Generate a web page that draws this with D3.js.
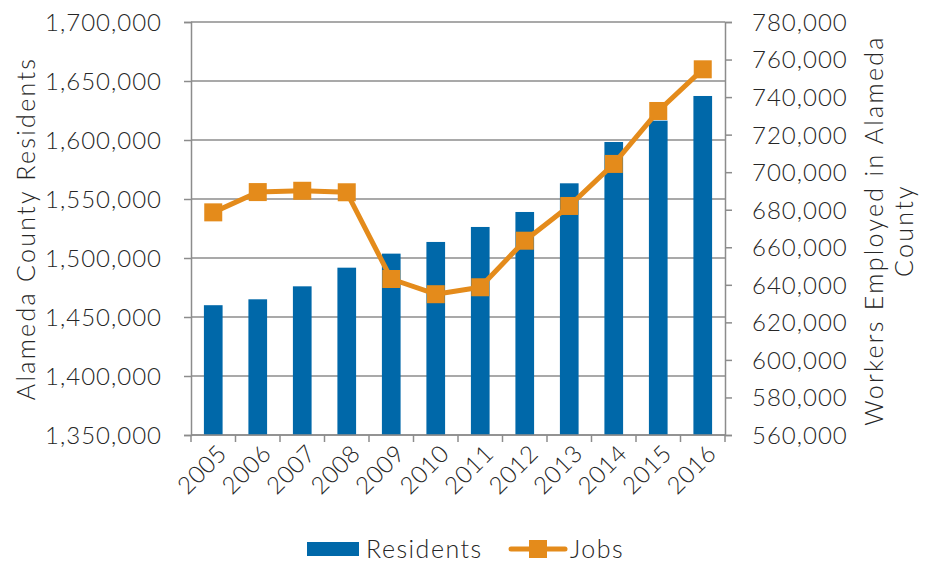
<!DOCTYPE html>
<html>
<head>
<meta charset="utf-8">
<script src="https://cdn.jsdelivr.net/npm/d3@7"></script>
<style>
  html, body { margin: 0; padding: 0; background: #fff; }
  svg text { font-family: Lato, "Open Sans", sans-serif; font-weight: 300; fill: #262626; }
</style>
</head>
<body>
<svg id="chart" width="935" height="565"></svg>
<script>
const years = ["2005","2006","2007","2008","2009","2010","2011","2012","2013","2014","2015","2016"];
const residents = [1460000, 1465000, 1476000, 1491800, 1503700, 1513600, 1526300, 1539000, 1563300, 1598300, 1616400, 1637300];
const jobs = [678600, 689400, 690100, 689300, 643100, 635000, 638700, 663500, 682000, 704400, 732600, 754800];
const leftTicks = [1350000, 1400000, 1450000, 1500000, 1550000, 1600000, 1650000, 1700000];
const rightTicks = [560000, 580000, 600000, 620000, 640000, 660000, 680000, 700000, 720000, 740000, 760000, 780000];

const blue = "#0068a9", orange = "#e48b1b", axisGrey = "#8c8c8c", ink = "#262626";
const m = { left: 191, right: 725, top: 22, bottom: 435 };
const svg = d3.select("#chart");
const fmt = d3.format(",");

const x = d3.scaleBand().domain(years).range([m.left, m.right]).paddingInner(0.58).paddingOuter(0.29);
const xb = d3.scaleBand().domain(years).range([m.left, m.right]);
const yL = d3.scaleLinear().domain([1350000, 1700000]).range([m.bottom, m.top]);
const yR = d3.scaleLinear().domain([560000, 780000]).range([m.bottom, m.top]);

// horizontal gridlines from the left axis
svg.append("g").selectAll("line").data(leftTicks).join("line")
  .attr("x1", m.left).attr("x2", m.right)
  .attr("y1", d => yL(d)).attr("y2", d => yL(d))
  .attr("stroke", axisGrey).attr("stroke-width", 1.5);

// residents bars
svg.append("g").selectAll("rect").data(years).join("rect")
  .attr("x", d => x(d)).attr("width", x.bandwidth())
  .attr("y", (d, i) => yL(residents[i]))
  .attr("height", (d, i) => m.bottom - yL(residents[i]))
  .attr("fill", blue);

function styleAxis(g) {
  g.select(".domain").attr("stroke", axisGrey).attr("stroke-width", 1.5);
  g.selectAll(".tick line").attr("stroke", axisGrey).attr("stroke-width", 1.5);
  g.selectAll(".tick text").attr("fill", ink).style("font-size", "24px")
    .style("letter-spacing", "1px").attr("dy", "0.35em");
}

// left axis
svg.append("g").attr("transform", `translate(${m.left},0)`)
  .call(d3.axisLeft(yL).tickValues(leftTicks).tickFormat(fmt).tickSize(7).tickPadding(22))
  .call(styleAxis);

// right axis
svg.append("g").attr("transform", `translate(${m.right},0)`)
  .call(d3.axisRight(yR).tickValues(rightTicks).tickFormat(fmt).tickSize(7).tickPadding(20))
  .call(styleAxis);

// bottom axis: ticks at category boundaries
const gb = svg.append("g").attr("transform", `translate(0,${m.bottom})`);
gb.append("line").attr("x1", m.left).attr("x2", m.right).attr("stroke", axisGrey).attr("stroke-width", 1.5);
const bounds = years.map(d => xb(d)).concat([m.right]);
gb.selectAll("line.tk").data(bounds).join("line").attr("class", "tk")
  .attr("x1", d => d).attr("x2", d => d).attr("y1", 0).attr("y2", 7)
  .attr("stroke", axisGrey).attr("stroke-width", 1.5);
gb.selectAll("text").data(years).join("text")
  .attr("transform", d => `translate(${xb(d) + xb.bandwidth() / 2 + 15},${20}) rotate(-45)`)
  .attr("text-anchor", "end").attr("fill", ink)
  .style("font-size", "24px").style("letter-spacing", "0.5px").text(d => d);

// jobs line with square markers
const line = d3.line().x((d, i) => xb(years[i]) + xb.bandwidth() / 2).y(d => yR(d));
svg.append("path").datum(jobs).attr("d", line)
  .attr("fill", "none").attr("stroke", orange).attr("stroke-width", 5).attr("stroke-linejoin", "round");
const ms = 18;
svg.append("g").selectAll("rect").data(jobs).join("rect")
  .attr("x", (d, i) => xb(years[i]) + xb.bandwidth() / 2 - ms / 2)
  .attr("y", d => yR(d) - ms / 2)
  .attr("width", ms).attr("height", ms).attr("fill", orange);

// axis titles
svg.append("text").attr("transform", `translate(35,${(m.top + m.bottom) / 2}) rotate(-90)`)
  .attr("text-anchor", "middle").attr("fill", ink)
  .style("font-size", "25px").style("letter-spacing", "2.3px").text("Alameda County Residents");
const rt = svg.append("text").attr("transform", `translate(883,${(m.top + m.bottom) / 2 + 2}) rotate(-90)`)
  .attr("text-anchor", "middle").attr("fill", ink)
  .style("font-size", "25px").style("letter-spacing", "2.3px");
rt.append("tspan").attr("x", 0).attr("dy", 0).text("Workers Employed in Alameda");
rt.append("tspan").attr("x", 0).attr("dy", 30).text("County");

// legend
const lg = svg.append("g");
lg.append("rect").attr("x", 307).attr("y", 542).attr("width", 52).attr("height", 14).attr("fill", blue);
lg.append("text").attr("x", 366).attr("y", 549).attr("dy", "0.35em").attr("fill", ink)
  .style("font-size", "25px").style("letter-spacing", "1.5px").text("Residents");
lg.append("line").attr("x1", 511).attr("x2", 565).attr("y1", 549).attr("y2", 549)
  .attr("stroke", orange).attr("stroke-width", 5).attr("stroke-linecap", "round");
lg.append("rect").attr("x", 529).attr("y", 540).attr("width", 18).attr("height", 18).attr("fill", orange);
lg.append("text").attr("x", 570).attr("y", 549).attr("dy", "0.35em").attr("fill", ink)
  .style("font-size", "25px").style("letter-spacing", "1.5px").text("Jobs");
</script>
</body>
</html>
